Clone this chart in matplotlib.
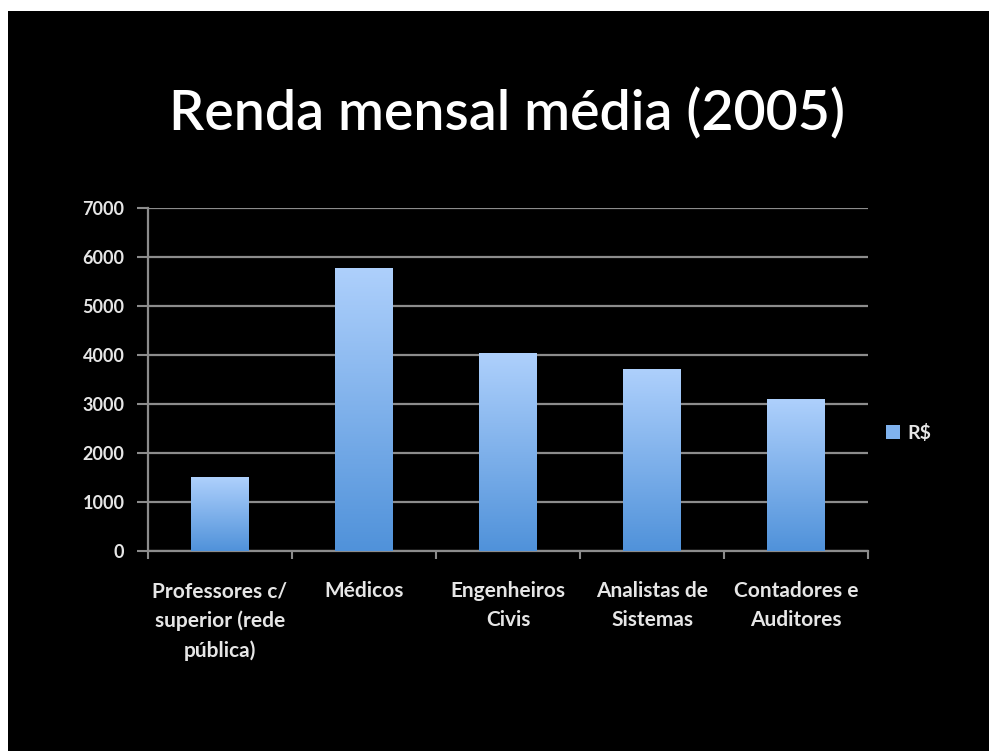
import matplotlib.pyplot as plt
import numpy as np
from matplotlib.patches import Rectangle
from matplotlib.colors import LinearSegmentedColormap

categorias = ['Professores c/\nsuperior (rede\npública)', 'Médicos', 'Engenheiros\nCivis',
              'Analistas de\nSistemas', 'Contadores e\nAuditores']
renda = [1510, 5770, 4040, 3710, 3100]
serie = 'R$'
yticks = [0, 1000, 2000, 3000, 4000, 5000, 6000, 7000]

plt.rcParams['font.family'] = ['Lato', 'DejaVu Sans']

fig = plt.figure(figsize=(9.89, 7.51), dpi=100, facecolor='white')
# slide preto
fig.patches.append(Rectangle((8/989, 0), 1, 1 - 11/751, transform=fig.transFigure,
                             facecolor='black', edgecolor='none', zorder=-5))

fig.text(0.513, 1 - 130/751, 'Renda mensal média (2005)', color='white', fontsize=40,
         ha='center', va='baseline', fontweight='semibold')

ax = fig.add_axes([148/989, 1 - 551/751, 720/989, 343/751])
ax.set_facecolor('black')

x = np.arange(len(categorias))
bars = ax.bar(x, renda, width=0.4, color='#7fb2ee', zorder=2, label=serie)

# gradiente nas barras
grad = np.linspace(0, 1, 256).reshape(-1, 1)
cmap = LinearSegmentedColormap.from_list('azul', ['#5092da', '#aed0fc'])
for b in bars:
    x0, y0 = b.get_x(), b.get_y()
    im = ax.imshow(grad, extent=[x0, x0 + b.get_width(), y0, y0 + b.get_height()],
                   origin='lower', cmap=cmap, aspect='auto', zorder=3)
    im.set_clip_path(b)

ax.set_xlim(-0.5, len(categorias) - 0.5)
ax.set_ylim(0, 7000)
ax.set_yticks(yticks)
ax.set_yticklabels([str(t) for t in yticks], color='#e6e6e6', fontsize=13, fontweight='bold')
ax.yaxis.grid(True, color='#8c8c8c', linewidth=1.6)
ax.set_axisbelow(True)
ax.tick_params(axis='y', length=8, color='#8c8c8c', width=1.5, pad=9)

ax.set_xticks(np.arange(len(categorias) + 1) - 0.5)
ax.set_xticklabels([])
ax.tick_params(axis='x', length=6, color='#8c8c8c', width=1.5, direction='out')
for xi, lab in zip(x, categorias):
    ax.text(xi, -620, lab, ha='center', va='top', color='#e6e6e6', fontsize=15,
            fontweight='bold', linespacing=1.55)

for s in ['top', 'right']:
    ax.spines[s].set_visible(False)
for s in ['left', 'bottom']:
    ax.spines[s].set_color('#8c8c8c')
    ax.spines[s].set_linewidth(1.6)

leg = ax.legend(loc='center left', bbox_to_anchor=(1.0, 0.344), frameon=False,
                fontsize=14, handlelength=0.75, handleheight=0.75, handletextpad=0.4)
for t in leg.get_texts():
    t.set_color('#e6e6e6')
    t.set_fontweight('bold')

fig.savefig('out.png', dpi=100, facecolor='white')
